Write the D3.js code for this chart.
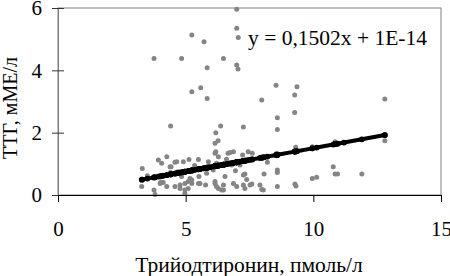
<!DOCTYPE html>
<html>
<head>
<meta charset="utf-8">
<script src="https://cdn.jsdelivr.net/npm/d3@7"></script>
<style>
    body { margin: 0; background: #fff; }
    text { font-family: "Liberation Serif", "Times New Roman", serif; }
</style>
</head>
<body>
<script>
// T3 (x) and TSH (y) values
var t3 = [
    7.0, 7.0, 7.06, 5.24, 5.72, 3.76, 4.84, 6.48, 7.0, 7.05, 5.84, 5.24, 5.59, 5.84,
    8.54, 9.36, 9.27, 7.98, 12.8, 8.59, 9.27, 7.26, 8.59, 4.41, 6.37, 6.18, 6.27,
    3.93, 4.26, 4.58, 4.43, 4.41, 4.12, 3.28, 3.76, 3.8, 4.0, 4.26, 4.58, 4.03,
    4.65, 4.91, 5.13, 5.5, 5.89, 5.82, 5.52, 5.24, 4.97, 4.78, 5.1, 5.24, 4.97,
    5.56, 6.15, 6.28, 6.41, 6.08, 6.21, 6.15, 6.15, 6.18, 6.87, 7.45, 6.28, 6.8,
    7.13, 4.84, 5.17, 6.54, 7.26, 4.78, 5.1, 5.5, 5.78, 6.15, 6.21, 6.48, 6.87,
    7.0, 7.26, 7.52, 4.97, 6.48, 7.32, 6.74, 7.23, 4.39, 4.06, 7.61, 9.31, 10.85,
    11.2, 12.8, 10.78, 10.85, 10.95, 11.9, 8.59, 8.59, 8.07, 7.32, 7.39, 7.59,
    7.91, 8.04, 8.59, 9.28, 9.32, 9.96, 10.13, 6.66, 8.57, 9.96, 7.98, 3.3, 5.35,
    5.7, 6.6, 6.95, 8.2, 3.5, 4.7, 5.95
];
var tsh = [
    5.96, 5.35, 5.05, 5.13, 4.92, 4.38, 4.38, 4.38, 4.17, 4.04, 4.08, 3.31, 3.44, 3.10,
    3.52, 3.47, 3.21, 3.05, 3.08, 2.48, 2.65, 2.18, 2.10, 2.21, 2.21, 2.0, 1.74,
    1.12, 1.23, 1.05, 0.91, 0.72, 0.40, 0.27, 0.16, 0.02, 0.37, 0.27, 0.27, 0.41,
    1.07, 1.07, 1.14, 1.14, 1.07, 0.70, 0.59, 0.48, 0.37, 0.21, 0.21, 0.37, 0.05,
    0.37, 0.37, 0.21, 0.16, 0.80, 1.02, 1.34, 1.66, 1.39, 1.39, 1.39, 1.23, 0.96,
    0.96, 0.59, 0.53, 0.59, 0.64, 0.32, 0.43, 0.37, 0.32, 0.43, 0.27, 0.32, 0.37,
    0.27, 0.32, 0.32, 0.16, 0.16, 0.21, 1.36, 1.28, 0.91, 1.02, 1.34, 1.53, 1.71,
    1.68, 1.74, 0.91, 0.67, 0.67, 0.67, 0.80, 0.72, 0.67, 0.67, 0.50, 0.35,
    0.32, 0.16, 0.27, 0.35, 0.29, 0.53, 0.57, 1.34, 1.34, 1.55, 0.18, 0.85, 0.95,
    0.85, 1.15, 0.78, 1.05, 0.62, 0.75, 0.9
];

var slope = 0.1502;
var equationText = "y = 0,1502x + 1E-14";
var xTicks = [0, 5, 10, 15];
var yTicks = [0, 2, 4, 6];
var xLabel = "Трийодтиронин, пмоль/л";
var yLabel = "ТТГ, мМЕ/л";

var w = 450;
var h = 276;
var plotLeft = 58, plotRight = 441, plotTop = 8, plotBottom = 195;

var x = d3.scaleLinear().domain([0, 15]).range([plotLeft, plotRight]);
var y = d3.scaleLinear().domain([0, 6]).range([plotBottom, plotTop]);

var svg = d3.select("body")
    .append("svg")
    .attr("width", w)
    .attr("height", h);

var points = t3.map((d, i) => { return { x: d, y: tsh[i] } });

var drawFrame = function () {
    svg.append("rect")
        .attr("x", plotLeft)
        .attr("y", plotTop)
        .attr("width", plotRight - plotLeft)
        .attr("height", plotBottom - plotTop)
        .style("fill", "none")
        .style("stroke", "#808080")
        .style("stroke-width", 1);
}

var drawAxes = function () {
    var yAxis = d3.axisLeft(y)
        .tickValues(yTicks)
        .tickSizeInner(6)
        .tickSizeOuter(0)
        .tickPadding(10)
        .tickFormat(d3.format("d"));
    var gy = svg.append("g")
        .attr("transform", "translate(" + plotLeft + ",0)")
        .call(yAxis);
    gy.select(".domain").style("stroke", "#7a7a7a");
    gy.selectAll(".tick line").attr("x2", 6).attr("x1", -6).style("stroke", "#333");
    gy.selectAll(".tick text")
        .style("font-size", "21px")
        .style("font-family", "Liberation Serif")
        .style("fill", "#000");

    var xAxis = d3.axisBottom(x)
        .tickValues(xTicks)
        .tickSizeInner(7)
        .tickSizeOuter(0)
        .tickPadding(19)
        .tickFormat(d3.format("d"));
    var gx = svg.append("g")
        .attr("transform", "translate(0," + plotBottom + ")")
        .call(xAxis);
    gx.select(".domain").style("stroke", "#000");
    gx.selectAll(".tick line").style("stroke", "#000");
    gx.selectAll(".tick text")
        .style("font-size", "21px")
        .style("font-family", "Liberation Serif")
        .style("fill", "#000");
}

var drawPoints = function () {
    svg.selectAll("circle.obs")
        .data(points)
        .enter()
        .append("circle")
        .attr("class", "obs")
        .attr("cx", (d) => { return x(d.x) })
        .attr("cy", (d) => { return y(d.y) })
        .attr("r", 2.5)
        .style("fill", "#858585");
}

var drawTrend = function () {
    var xs = t3.slice().sort(d3.ascending);
    var line = d3.line()
        .x((d) => { return x(d) })
        .y((d) => { return y(slope * d) });
    svg.append("path")
        .datum(xs)
        .attr("d", line)
        .style("fill", "none")
        .style("stroke", "#000")
        .style("stroke-width", 4);

    svg.selectAll("circle.fit")
        .data(xs)
        .enter()
        .append("circle")
        .attr("class", "fit")
        .attr("cx", (d) => { return x(d) })
        .attr("cy", (d) => { return y(slope * d) })
        .attr("r", 2.9)
        .style("fill", "#000");

    svg.append("text")
        .attr("x", 248)
        .attr("y", 45)
        .style("font-size", "21.5px")
        .text(equationText);
}

var drawLabels = function () {
    svg.append("text")
        .attr("x", 249)
        .attr("y", 272)
        .attr("text-anchor", "middle")
        .style("font-size", "21.5px")
        .text(xLabel);

    svg.append("text")
        .attr("transform", "translate(17,108) rotate(-90)")
        .attr("text-anchor", "middle")
        .style("font-size", "20px")
        .text(yLabel);
}

drawFrame();
drawPoints();
drawTrend();
drawAxes();
drawLabels();
</script>
</body>
</html>
